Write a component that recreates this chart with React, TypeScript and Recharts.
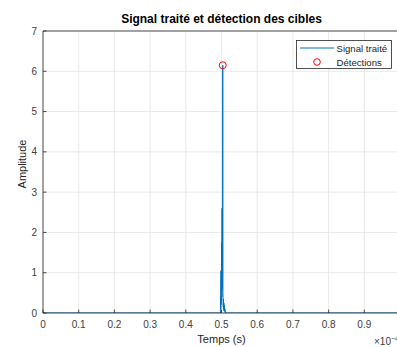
import {
  ComposedChart,
  Line,
  Scatter,
  XAxis,
  YAxis,
  CartesianGrid,
} from "recharts";

// temps (x 1e-4 s) et amplitude du signal traité
const times = [
  0, 0.497, 0.4975, 0.498, 0.4985, 0.499, 0.4995, 0.5, 0.5005, 0.501, 0.5015,
  0.502, 0.5025, 0.503, 0.5035, 0.504, 0.5045, 0.505, 0.5055, 0.506, 0.5065,
  0.507, 0.5075, 0.508, 0.5085, 0.509, 0.5095, 0.51, 0.5105, 0.511, 1.0,
];
const amplitudes = [
  0, 0, 0.4, 0.1, 1.05, 0.2, 0.8, 0.3, 1.75, 0.4, 2.6, 0.6, 1.2, 0.9, 6.15,
  0.5, 0.3, 0.15, 0.35, 0.1, 0.25, 0.05, 0.2, 0.1, 0.15, 0.05, 0.1, 0.02, 0.05,
  0, 0,
];
const detectionTimes = [0.5035];
const detectionAmps = [6.15];

const xTicks = [0, 0.1, 0.2, 0.3, 0.4, 0.5, 0.6, 0.7, 0.8, 0.9];
const yTicks = [0, 1, 2, 3, 4, 5, 6, 7];

const signal = times.map((t, i) => ({ t, a: amplitudes[i] }));
const detections = detectionTimes.map((t, i) => ({ t, a: detectionAmps[i] }));

const FONT = "'Liberation Sans', Arial, Helvetica, sans-serif";
const AXIS = "#262626";
const BLUE = "#0072BD";

const XTick = (props: any) => {
  const { x, y, payload } = props;
  return (
    <g>
      <line x1={x} y1={y} x2={x} y2={y - 3.5} stroke={AXIS} strokeWidth={0.8} />
      <text x={x} y={y + 14.5} textAnchor="middle" fontSize={10} fill="#404040" fontFamily={FONT}>
        {payload.value}
      </text>
    </g>
  );
};

const TopTick = (props: any) => {
  const { x, y } = props;
  return <line x1={x} y1={y} x2={x} y2={y + 3.5} stroke={AXIS} strokeWidth={0.8} />;
};

const YTick = (props: any) => {
  const { x, y, payload } = props;
  return (
    <g>
      <line x1={x} y1={y} x2={x + 3.5} y2={y} stroke={AXIS} strokeWidth={0.8} />
      <text x={x - 6} y={y + 3.5} textAnchor="end" fontSize={10} fill="#404040" fontFamily={FONT}>
        {payload.value}
      </text>
    </g>
  );
};

const LegendBox = () => (
  <svg
    width={96}
    height={29}
    style={{ position: "absolute", left: 295.5, top: 39.5 }}
  >
    <rect x={0.5} y={0.5} width={95} height={28} fill="#fff" stroke={AXIS} strokeWidth={0.8} />
    <line x1={4} y1={8} x2={38} y2={8} stroke={BLUE} strokeWidth={1} />
    <circle cx={21} cy={22} r={3.3} fill="none" stroke="#ff0000" strokeWidth={1} />
    <text x={40.5} y={11.5} fontSize={9.6} fill="#262626" fontFamily={FONT}>
      Signal traité
    </text>
    <text x={40.5} y={25.5} fontSize={9.6} fill="#262626" fontFamily={FONT}>
      Détections
    </text>
  </svg>
);

export default function App() {
  return (
    <div
      style={{
        position: "absolute",
        left: 0,
        top: 0,
        width: 397,
        height: 347,
        overflow: "hidden",
        background: "#fff",
        fontFamily: FONT,
      }}
    >
      <ComposedChart
        width={400}
        height={347}
        margin={{ top: 0, right: 0, bottom: 0, left: 0 }}
      >
        <CartesianGrid stroke="#e3e3e3" strokeWidth={0.8} />
        <XAxis
          dataKey="t"
          type="number"
          domain={[0, 1]}
          ticks={xTicks}
          allowDataOverflow
          height={34}
          tickSize={0}
          tickMargin={0}
          tickLine={false}
          axisLine={{ stroke: AXIS, strokeWidth: 0.8 }}
          tick={<XTick />}
        />
        <XAxis
          xAxisId="top"
          orientation="top"
          dataKey="t"
          type="number"
          domain={[0, 1]}
          ticks={xTicks}
          height={31}
          tickSize={0}
          tickMargin={0}
          tickLine={false}
          axisLine={{ stroke: AXIS, strokeWidth: 0.8 }}
          tick={<TopTick />}
        />
        <YAxis
          dataKey="a"
          type="number"
          domain={[0, 7]}
          ticks={yTicks}
          allowDataOverflow
          width={43}
          tickSize={0}
          tickMargin={0}
          tickLine={false}
          axisLine={{ stroke: AXIS, strokeWidth: 0.8 }}
          tick={<YTick />}
        />
        <Line
          data={signal}
          dataKey="a"
          name="Signal traité"
          type="linear"
          stroke={BLUE}
          strokeWidth={1}
          dot={false}
          activeDot={false}
          isAnimationActive={false}
        />
        <Scatter
          data={detections}
          dataKey="a"
          name="Détections"
          isAnimationActive={false}
          shape={(p: any) => (
            <circle cx={p.cx} cy={p.cy} r={3.5} fill="none" stroke="#ff0000" strokeWidth={1} />
          )}
        />
      </ComposedChart>
      <LegendBox />
      <div
        style={{
          position: "absolute",
          left: 43,
          width: 357,
          top: 12,
          textAlign: "center",
          fontWeight: "bold",
          fontSize: 12,
          color: "#000",
        }}
      >
        Signal traité et détection des cibles
      </div>
      <div
        style={{
          position: "absolute",
          left: 43,
          width: 357,
          top: 333,
          textAlign: "center",
          fontSize: 11,
          color: "#262626",
        }}
      >
        Temps (s)
      </div>
      <div
        style={{
          position: "absolute",
          left: 22,
          top: 164,
          transform: "translate(-50%, -50%) rotate(-90deg)",
          fontSize: 11,
          color: "#262626",
          whiteSpace: "nowrap",
        }}
      >
        Amplitude
      </div>
      <div
        style={{
          position: "absolute",
          left: 374,
          top: 335,
          fontSize: 10,
          color: "#404040",
          whiteSpace: "nowrap",
        }}
      >
        ×10<sup style={{ fontSize: 7 }}>−4</sup>
      </div>
    </div>
  );
}
